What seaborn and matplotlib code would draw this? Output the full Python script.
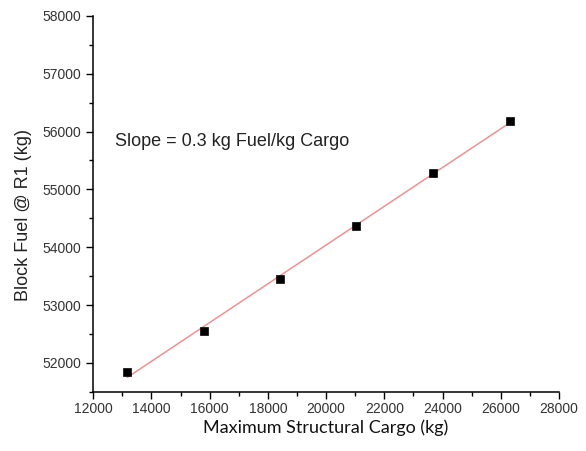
import matplotlib
matplotlib.use("Agg")
import matplotlib.pyplot as plt
import seaborn as sns
import pandas as pd
from matplotlib.ticker import MultipleLocator

cargo = [13170, 15800, 18420, 21040, 23670, 26310]
fuel = [51845, 52555, 53460, 54370, 55275, 56190]
annotation = "Slope = 0.3 kg Fuel/kg Cargo"
xlabel = "Maximum Structural Cargo (kg)"
ylabel = "Block Fuel @ R1 (kg)"

df = pd.DataFrame({"cargo": cargo, "fuel": fuel})

sns.set_style("ticks")
plt.rcParams['font.family'] = ['Liberation Sans', 'DejaVu Sans']

fig = plt.figure(figsize=(5.86, 4.51), dpi=100)
ax = fig.add_axes([0.159, 0.131, 0.795, 0.834])

sns.regplot(data=df, x="cargo", y="fuel", ax=ax, scatter=False, ci=None,
            line_kws=dict(color="#e89494", lw=1.1))
sns.scatterplot(data=df, x="cargo", y="fuel", ax=ax, marker="s", s=36,
                color="black", edgecolor="black", zorder=3)

ax.set_xlim(12000, 28000)
ax.set_ylim(51500, 58000)
ax.xaxis.set_major_locator(MultipleLocator(2000))
ax.xaxis.set_minor_locator(MultipleLocator(1000))
ax.yaxis.set_major_locator(MultipleLocator(1000))
ax.yaxis.set_minor_locator(MultipleLocator(500))
ax.tick_params(which="major", length=5, width=1, colors="black", labelcolor="#333333", labelsize=10)
ax.tick_params(axis="x", which="major", pad=2)
ax.tick_params(which="minor", length=3, width=1, colors="black")
for s in ["top", "right"]:
    ax.spines[s].set_visible(False)
for s in ["left", "bottom"]:
    ax.spines[s].set_color("black")
    ax.spines[s].set_linewidth(1.1)

ax.set_xlabel(xlabel, fontsize=13, family=["Lato", "DejaVu Sans"], color="#111111", labelpad=3)
ax.set_ylabel(ylabel, fontsize=13, color="#222222")
ax.yaxis.set_label_coords(-0.132, 0.471)
ax.text(12750, 55820, annotation, fontsize=13, color="#222222", va="center")

fig.savefig("out.png", dpi=100)
